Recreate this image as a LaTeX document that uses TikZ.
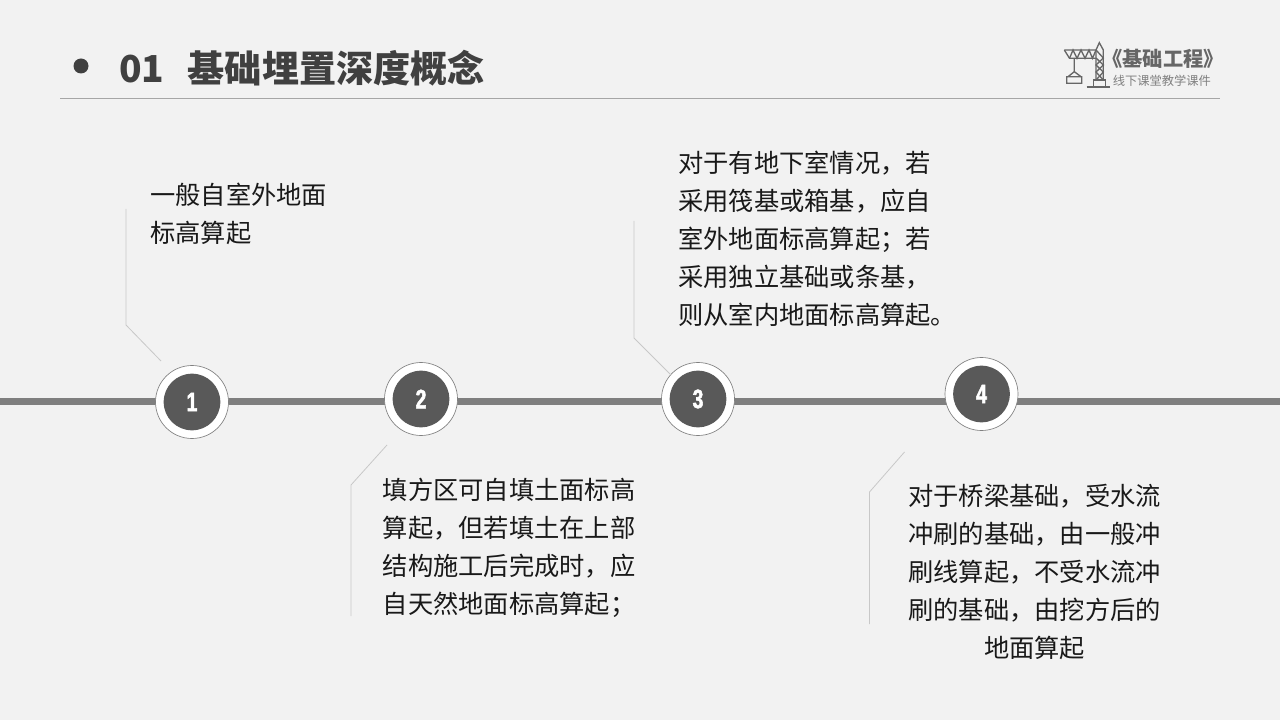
\documentclass[tikz,border=0pt]{standalone}
\usepackage{fontspec}
\usetikzlibrary{calc}
\newfontfamily\cjk{Noto Sans CJK SC}
\newfontfamily\numfont[BoldFeatures={FakeStretch=0.72,FakeBold=2}]{Liberation Sans}
\definecolor{pagebg}{HTML}{F2F2F2}
\definecolor{darkgrey}{HTML}{404040}
\definecolor{dotgrey}{HTML}{595959}
\definecolor{linegrey}{HTML}{7F7F7F}
\definecolor{leadgrey}{HTML}{C8C8C8}
\definecolor{logogrey}{HTML}{666666}
\tikzstyle{ring} = [circle, minimum size=54.75pt, inner sep=0pt, draw=gray, line width=0.5pt, fill=white]
\tikzstyle{dot} = [circle, minimum size=42.5pt, inner sep=0pt, fill=dotgrey, text=white, font=\numfont\bfseries\fontsize{20}{20}\selectfont]
\tikzstyle{bodytext} = [inner sep=0pt, text=black!90, font=\cjk\fontsize{18.95}{28.5}\selectfont]
\tikzstyle{leader} = [draw=leadgrey, line width=0.6pt]
\tikzstyle{crane} = [draw=logogrey, line width=1pt]
\begin{document}
\begin{tikzpicture}[x=0.75pt, y=-0.75pt]
    \useasboundingbox (0,0) rectangle (1280,720);
    \fill[pagebg] (0,0) rectangle (1280,720);

    % Header
    \node (bullet) [circle, minimum size=11.25pt, inner sep=0pt, fill=darkgrey] at (81,66) {};
    \node (title) [anchor=west, inner sep=0pt, text=darkgrey, font=\cjk\bfseries\fontsize{27.85}{30}\selectfont] at (119,68) {01\hspace{17.5pt}基础埋置深度概念};
    \coordinate (ruleleft) at (60,98.5);
    \coordinate (ruleright) at (1220,98.5);
    \draw[color=gray!70, line width=0.75pt] (ruleleft) -- (ruleright);

    % Logo
    \node (logotitle) [anchor=west, inner sep=0pt, text=logogrey, font=\cjk\bfseries\fontsize{15.2}{17}\selectfont] at (1102,58.5) {《基础工程》};
    \node (logosub) [anchor=west, inner sep=0pt, text=gray, font=\cjk\fontsize{9.2}{11}\selectfont] at (1112.5,80.5) {线下课堂教学课件};
    \draw[crane] (1064.3,50) -- (1096,50) -- (1099.3,42.7) -- (1103.3,50) -- (1103.3,80) -- (1096,80) -- (1096,50);
    \draw[crane] (1064.3,50) -- (1069.5,58.3) -- (1096,58.3);
    \draw[crane] (1069.5,58.3) -- (1073,50) -- (1077,58.3) -- (1081,50) -- (1085,58.3) -- (1089,50) -- (1092.5,58.3) -- (1096,50);
    \draw[crane] (1096,50) -- (1103.3,58) -- (1096,65) -- (1103.3,72) -- (1096,80);
    \draw[crane] (1096,58) -- (1103.3,65) -- (1096,72) -- (1103.3,80);
    \draw[crane] (1074.3,58.3) -- (1074.3,71.7) -- (1068,76.7) -- (1066.7,76.7) -- (1066.7,83.3) -- (1081.7,83.3) -- (1081.7,76.7) -- (1066.7,76.7);
    \draw[crane] (1074.3,71.7) -- (1081,76.7);
    \draw[crane] (1093.5,86.7) -- (1093.5,80) -- (1105.5,80) -- (1105.5,86.7);
    \draw[crane] (1086.7,87) -- (1110,87);

    % Nodes
    \coordinate (lineleft) at (0,401.5);
    \coordinate (lineright) at (1280,401.5);
    \draw[color=linegrey, line width=5.25pt] (lineleft) -- (lineright);

    \node (ringa) [ring] at (192,402) {};
    \node (ringb) [ring] at ($(ringa)+(229,-3)$) {};
    \node (ringc) [ring] at ($(ringb)+(277,0)$) {};
    \node (ringd) [ring] at ($(ringc)+(283.5,-5)$) {};
    \node (dota) [dot] at (ringa) {1};
    \node (dotb) [dot] at (ringb) {2};
    \node (dotc) [dot] at (ringc) {3};
    \node (dotd) [dot] at (ringd) {4};

    \node (ta) [bodytext, align=left, anchor=north west] at ($(ringa)+(-42,-219.5)$) {一般自室外地面\\标高算起};
    \node (tb) [bodytext, align=left, anchor=north west] at ($(ringb)+(-38.5,79)$) {填方区可自填土面标高\\算起，但若填土在上部\\结构施工后完成时，应\\自天然地面标高算起；};
    \node (tc) [bodytext, align=left, anchor=north west] at ($(ringc)+(-20,-248.5)$) {对于有地下室情况，若\\采用筏基或箱基，应自\\室外地面标高算起；若\\采用独立基础或条基，\\则从室内地面标高算起。};
    \node (td) [bodytext, align=center, anchor=north west] at ($(ringd)+(-73.5,89.5)$) {对于桥梁基础，受水流\\冲刷的基础，由一般冲\\刷线算起，不受水流冲\\刷的基础，由挖方后的\\地面算起};

    % Leaders
    \coordinate (la1) at ($(ringa)+(-66,-193)$);
    \coordinate (la2) at ($(ringa)+(-66,-77)$);
    \coordinate (la3) at ($(ringa)+(-31,-41)$);
    \coordinate (lb1) at ($(ringb)+(-34,46)$);
    \coordinate (lb2) at ($(ringb)+(-70,86)$);
    \coordinate (lb3) at ($(ringb)+(-70,217)$);
    \coordinate (lc1) at ($(ringc)+(-64,-178)$);
    \coordinate (lc2) at ($(ringc)+(-64,-61)$);
    \coordinate (lc3) at ($(ringc)+(-27,-24)$);
    \coordinate (ld1) at ($(ringd)+(-77,58)$);
    \coordinate (ld2) at ($(ringd)+(-112,98)$);
    \coordinate (ld3) at ($(ringd)+(-112,230)$);
    \draw[leader] (la1) -- (la2) -- (la3);
    \draw[leader] (lb1) -- (lb2) -- (lb3);
    \draw[leader] (lc1) -- (lc2) -- (lc3);
    \draw[leader] (ld1) -- (ld2) -- (ld3);
\end{tikzpicture}
\end{document}
